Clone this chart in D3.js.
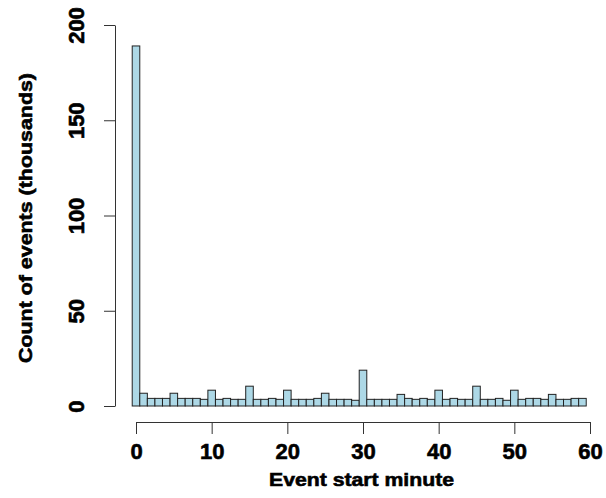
<!DOCTYPE html>
<html>
<head>
<meta charset="utf-8">
<script src="https://cdn.jsdelivr.net/npm/d3@7"></script>
<style>
  html, body { margin: 0; padding: 0; background: #fff; }
  text { font-family: "Liberation Sans", Arial, sans-serif; font-weight: bold; fill: #000; stroke: #000; stroke-width: 0.6px; }
</style>
</head>
<body>
<svg id="chart" width="606" height="498"></svg>
<script>
// Event start minute (0..59) and counts (thousands)
const minutes = d3.range(0, 60);
const counts = [
  189, 6.7, 4, 4, 4, 6.7, 4, 4, 4, 3.5,
  8.3, 3.5, 4, 3.5, 3.5, 10.4, 3.5, 3.5, 4, 3.5,
  8.3, 3.5, 3.5, 3.5, 4, 6.7, 3.5, 3.5, 3.5, 3,
  18.8, 3.5, 3.5, 3.5, 3.5, 6.1, 4, 3.5, 4, 3.5,
  8.3, 3.5, 4, 3.5, 3.5, 10.4, 3.5, 3.5, 4, 3,
  8.3, 3.5, 4, 4, 3.5, 6.1, 3.5, 3.5, 4, 4
];
const xTicks = [0, 10, 20, 30, 40, 50, 60];
const yTicks = [0, 50, 100, 150, 200];
const xTitle = "Event start minute";
const yTitle = "Count of events (thousands)";

const svg = d3.select("#chart");
const x = d3.scaleLinear().domain([0, 60]).range([136, 590]);
const y = d3.scaleLinear().domain([0, 200]).range([406, 25]);

// bars
svg.append("g").selectAll("rect")
  .data(minutes)
  .join("rect")
  .attr("x", d => x(d - 0.5))
  .attr("y", (d, i) => y(counts[i]))
  .attr("width", d => x(d + 0.5) - x(d - 0.5))
  .attr("height", (d, i) => y(0) - y(counts[i]))
  .attr("fill", "#add8e6")
  .attr("stroke", "#222")
  .attr("stroke-width", 1);

// x axis
const xAxis = svg.append("g").attr("transform", "translate(0,422)")
  .call(d3.axisBottom(x).tickValues(xTicks).tickSize(12).tickSizeOuter(0).tickPadding(9).tickFormat(d3.format("d")));
xAxis.select(".domain").attr("stroke", "#333");
xAxis.selectAll(".tick line").attr("stroke", "#333");
xAxis.selectAll("text").attr("font-size", 22).attr("font-family", "Liberation Sans, Arial, sans-serif").attr("font-weight", "bold").attr("fill", "#000");

// y axis
const yAxis = svg.append("g").attr("transform", "translate(115,0)")
  .call(d3.axisLeft(y).tickValues(yTicks).tickSize(11).tickSizeOuter(0).tickFormat(d3.format("d")));
yAxis.select(".domain").attr("stroke", "#333");
yAxis.selectAll(".tick line").attr("stroke", "#333");
yAxis.selectAll("text")
  .attr("font-size", 22).attr("font-family", "Liberation Sans, Arial, sans-serif").attr("font-weight", "bold").attr("fill", "#000")
  .attr("x", null).attr("dy", null)
  .attr("text-anchor", "middle")
  .attr("transform", "translate(-31,0) rotate(-90)");

// titles
svg.append("text")
  .attr("x", 361.5).attr("y", 486)
  .attr("text-anchor", "middle")
  .attr("font-size", 19)
  .attr("textLength", 185).attr("lengthAdjust", "spacingAndGlyphs")
  .text(xTitle);

svg.append("text")
  .attr("transform", "translate(32,218) rotate(-90)")
  .attr("text-anchor", "middle")
  .attr("font-size", 19)
  .attr("textLength", 290).attr("lengthAdjust", "spacingAndGlyphs")
  .text(yTitle);
</script>
</body>
</html>
